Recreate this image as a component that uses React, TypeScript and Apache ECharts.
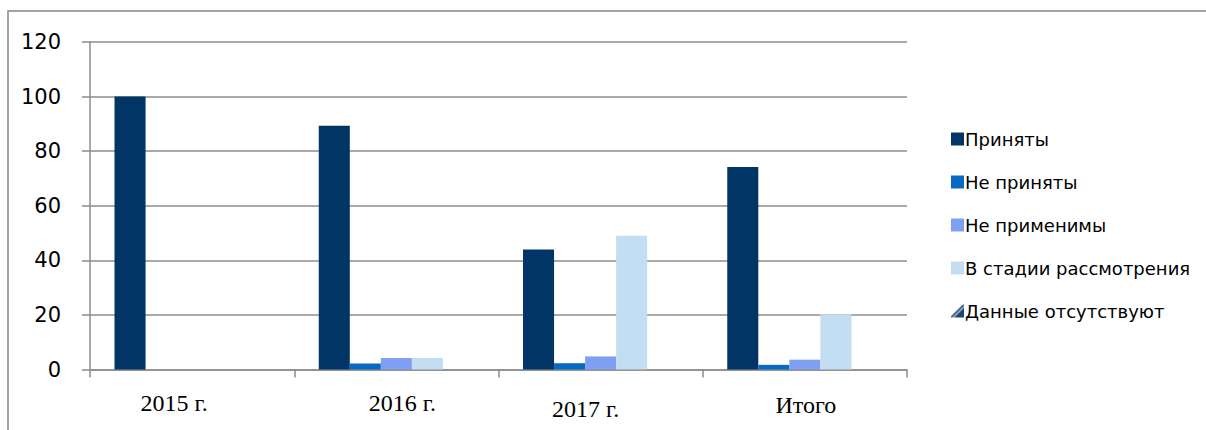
import React, { useEffect, useRef } from "react";
import * as echarts from "echarts";

const categories = ["2015 г.", "2016 г.", "2017 г.", "Итого"];
const accepted = [100, 89.3, 44, 74.2];
const notAccepted = [0, 2.2, 2.3, 1.7];
const notApplicable = [0, 4.2, 4.8, 3.6];
const underReview = [0, 4.2, 49, 20.2];
const noData = [0, 0, 0, 0];
const yTicks = [0, 20, 40, 60, 80, 100, 120];

// small per-label offsets of the category labels (as in reference)
const labelShift: Record<string, [number, number]> = {
  "2015 г.": [-18, 0],
  "2016 г.": [6, 0],
  "2017 г.": [-15, 3],
  "Итого": [1, 1],
};

export default function App() {
  const ref = useRef<HTMLDivElement>(null);
  useEffect(() => {
    if (!ref.current) return;
    const chart = echarts.init(ref.current, undefined, { renderer: "svg" });
    const rich: Record<string, any> = {};
    categories.forEach((c, i) => {
      const [dx, dy] = labelShift[c];
      rich["c" + i] = {
        fontFamily: "Liberation Serif",
        fontSize: 24,
        color: "#000",
        padding: [dy > 0 ? dy * 2 : 0, dx < 0 ? -dx * 2 : 0, 0, dx > 0 ? dx * 2 : 0],
      };
    });
    const gradient = new echarts.graphic.LinearGradient(0, 0, 1, 1, [
      { offset: 0, color: "#ffffff" },
      { offset: 0.42, color: "#ffffff" },
      { offset: 0.5, color: "#1d4270" },
      { offset: 0.58, color: "#9fb8d4" },
      { offset: 0.68, color: "#1d4270" },
      { offset: 1, color: "#1d4270" },
    ]);
    const mk = (name: string, data: number[], color: any) => ({
      name,
      type: "bar",
      data,
      barGap: "0%",
      barCategoryGap: "24%",
      itemStyle: { color },
    });
    chart.setOption({
      animation: false,
      backgroundColor: "#fff",
      textStyle: { fontFamily: "DejaVu Sans" },
      graphic: [
        {
          type: "rect",
          shape: { x: 8, y: 11, width: 1300, height: 500 },
          style: { fill: "none", stroke: "#878787", lineWidth: 1.5 },
          silent: true,
        },
      ],
      grid: { left: 90, right: 299, top: 42, bottom: 60.5, containLabel: false },
      legend: {
        orient: "vertical",
        left: 946,
        top: 125,
        itemWidth: 13,
        itemHeight: 13,
        itemGap: 25,
        icon: "rect",
        textStyle: { fontFamily: "DejaVu Sans", fontSize: 18, color: "#000", padding: [0, 0, 0, -4] },
        data: [
          "Приняты",
          "Не приняты",
          "Не применимы",
          "В стадии рассмотрения",
          "Данные отсутствуют",
        ],
      },
      xAxis: {
        type: "category",
        data: categories,
        axisLine: { lineStyle: { color: "#8c8c8c", width: 1.5 } },
        axisTick: { show: true, length: 8, lineStyle: { color: "#8c8c8c", width: 1.5 } },
        axisLabel: {
          margin: 21,
          formatter: (v: string) => "{c" + categories.indexOf(v) + "|" + v + "}",
          rich,
        },
      },
      yAxis: {
        type: "value",
        min: 0,
        max: 120,
        interval: 20,
        axisLine: { show: true, lineStyle: { color: "#8c8c8c", width: 1.5 } },
        axisTick: { show: true, length: 8, lineStyle: { color: "#8c8c8c", width: 1.5 } },
        splitLine: { lineStyle: { color: "#8c8c8c", width: 1.5 } },
        axisLabel: {
          margin: 29,
          fontFamily: "DejaVu Sans",
          fontSize: 21,
          color: "#000",
          formatter: (v: number) => (yTicks.includes(v) ? String(v) : ""),
        },
      },
      series: [
        mk("Приняты", accepted, "#013566"),
        mk("Не приняты", notAccepted, "#0868c6"),
        mk("Не применимы", notApplicable, "#7f9ff2"),
        mk("В стадии рассмотрения", underReview, "#c3ddf2"),
        mk("Данные отсутствуют", noData, gradient),
      ],
    });
    return () => chart.dispose();
  }, []);
  return (
    <div
      ref={ref}
      style={{ position: "absolute", left: 0, top: 0, width: 1206, height: 430 }}
    />
  );
}
